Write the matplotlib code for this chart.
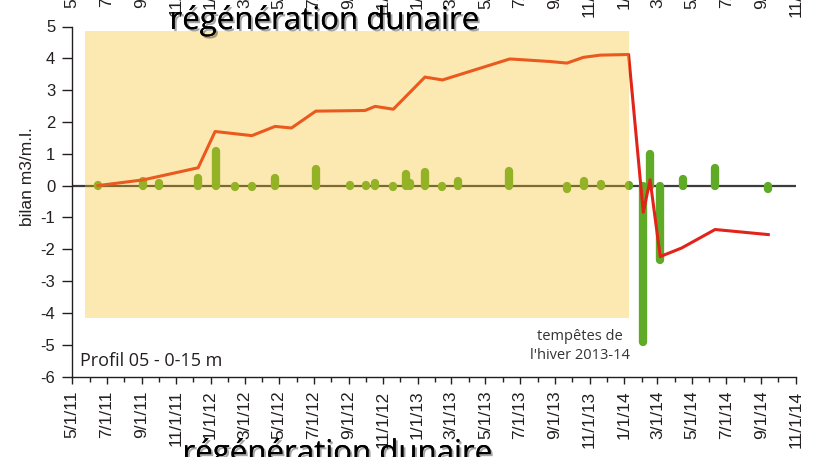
import pandas as pd
import numpy as np
import matplotlib
matplotlib.use("Agg")
import matplotlib.pyplot as plt
import matplotlib.dates as mdates
import matplotlib.patheffects as pe
from matplotlib.patches import Rectangle
from matplotlib.transforms import blended_transform_factory

# ── Data ───────────────────────────────────────────────────────────────────
# cumulative balance (m3/m.l.)
line_dates = ["2011-06-16", "2011-09-04", "2011-12-10", "2012-01-09", "2012-03-14",
              "2012-04-24", "2012-05-23", "2012-07-05", "2012-09-30", "2012-10-18",
              "2012-11-19", "2013-01-14", "2013-02-14", "2013-06-13", "2013-08-23",
              "2013-09-22", "2013-10-21", "2013-11-20", "2014-01-09", "2014-02-04",
              "2014-02-16", "2014-03-06", "2014-04-13", "2014-06-11", "2014-09-13"]
line_values = [0.00, 0.18, 0.56, 1.70, 1.57,
               1.86, 1.81, 2.34, 2.36, 2.49,
               2.40, 3.41, 3.32, 3.98, 3.90,
               3.85, 4.03, 4.10, 4.12, -0.84,
               0.18, -2.23, -1.96, -1.38, -1.54]

# balance between two surveys
bar_dates = ["2011-06-16", "2011-09-04", "2011-10-01", "2011-12-10", "2012-01-10",
             "2012-02-13", "2012-03-14", "2012-04-24", "2012-05-23", "2012-07-05",
             "2012-09-04", "2012-10-02", "2012-10-18", "2012-11-19", "2012-12-12",
             "2012-12-19", "2013-01-14", "2013-02-14", "2013-03-14", "2013-06-12",
             "2013-09-23", "2013-10-23", "2013-11-21", "2014-01-09", "2014-02-03",
             "2014-02-16", "2014-03-06", "2014-04-15", "2014-06-11", "2014-09-12"]
bar_values = [0.01, 0.14, 0.09, 0.25, 1.09,
              -0.03, -0.05, 0.25, -0.02, 0.51,
              0.01, 0.03, 0.09, -0.05, 0.37,
              0.09, 0.43, -0.05, 0.14, 0.46,
              -0.10, 0.14, 0.04, 0.01, -4.92,
              0.98, -2.35, 0.22, 0.54, -0.10]

# dune regeneration period (shaded)
regen_start, regen_end = "2011-05-24", "2014-01-10"
regen_bottom, regen_top = -4.16, 4.87

x_start, x_end = "2011-05-01", "2014-11-01"
tick_dates = pd.date_range(x_start, x_end, freq="2MS")
tick_labels = [f"{d.month}/{d.day}/{d.year % 100}" for d in tick_dates]
y_ticks = list(range(-6, 6))

line_dates = pd.to_datetime(line_dates)
bar_dates = pd.to_datetime(bar_dates)

# ── Figure ─────────────────────────────────────────────────────────────────
plt.rcParams["font.family"] = ["Liberation Sans", "DejaVu Sans"]
fig = plt.figure(figsize=(8.13, 4.57), dpi=100)
ax = fig.add_axes([72 / 813, 1 - 376.5 / 457, 724 / 813, 350 / 457])

red = "#e2231a"
green = "#5fab28"
ink = "#231f20"

ax.axhline(0, color="#3c3c3c", lw=1.6, zorder=1)

bars = ax.vlines(bar_dates, 0, bar_values, color=green, lw=6, zorder=2)
bars.set_capstyle("round")

ax.plot(line_dates, line_values, color=red, lw=2.2, zorder=3)

# translucent overlay for the regeneration period
x0 = mdates.date2num(pd.Timestamp(regen_start))
x1 = mdates.date2num(pd.Timestamp(regen_end))
ax.add_patch(Rectangle((x0, regen_bottom), x1 - x0, regen_top - regen_bottom,
                       facecolor="#f9c023", alpha=0.35, edgecolor="none", zorder=4))

ax.set_xlim(pd.Timestamp(x_start), pd.Timestamp(x_end))
ax.set_ylim(-6, 5)

for s in ["top", "right"]:
    ax.spines[s].set_visible(False)
for s in ["left", "bottom"]:
    ax.spines[s].set_color(ink)
    ax.spines[s].set_linewidth(1.0)

ax.set_yticks(y_ticks)
ax.set_yticklabels([str(v) for v in y_ticks])
ax.tick_params(axis="y", length=7, width=1.0, pad=5, labelsize=12, colors=ink)

ax.set_xticks(tick_dates)
ax.set_xticklabels(tick_labels, rotation=90, va="top", ha="center")
ax.xaxis.set_minor_locator(mdates.MonthLocator())
ax.tick_params(axis="x", which="major", length=5, width=1.0, pad=5, labelsize=12.5, colors=ink)
ax.tick_params(axis="x", which="minor", length=3.5, width=1.0, colors=ink)

# cut-off copy of the date labels at the very top of the picture
top_tr = blended_transform_factory(ax.transData, fig.transFigure)
for d, lab in zip(tick_dates, tick_labels):
    ax.text(d, 1 + 40 / 457, lab, transform=top_tr, rotation=90, ha="center", va="top",
            fontsize=12.5, color=ink, clip_on=False)

fig.text(28 / 813, 1 - 177 / 457, "bilan m3/m.l.", rotation=90, ha="center", va="center",
         fontsize=12.5, color=ink)

ax.text(0.011, 0.044, "Profil 05 - 0-15 m", transform=ax.transAxes, ha="left", va="center",
        fontsize=13, color=ink, family="Open Sans")

ax.text(pd.Timestamp("2013-10-15"), -5.04, "tempêtes de\nl'hiver 2013-14", ha="center",
        va="center", fontsize=10.5, color="#333333", family="Open Sans", linespacing=1.35)

shadow = [pe.withSimplePatchShadow(offset=(1.5, -1.5), alpha=0.35), pe.Normal()]
fig.text(324 / 813, 1 - 29 / 457, "régénération dunaire", ha="center", va="baseline",
         fontsize=22.5, family="Open Sans", color="black", path_effects=shadow)
fig.text(337 / 813, 1 - 462 / 457, "régénération dunaire", ha="center", va="baseline",
         fontsize=22.5, family="Open Sans", color="black", path_effects=shadow)

fig.savefig("out.png", dpi=100)
